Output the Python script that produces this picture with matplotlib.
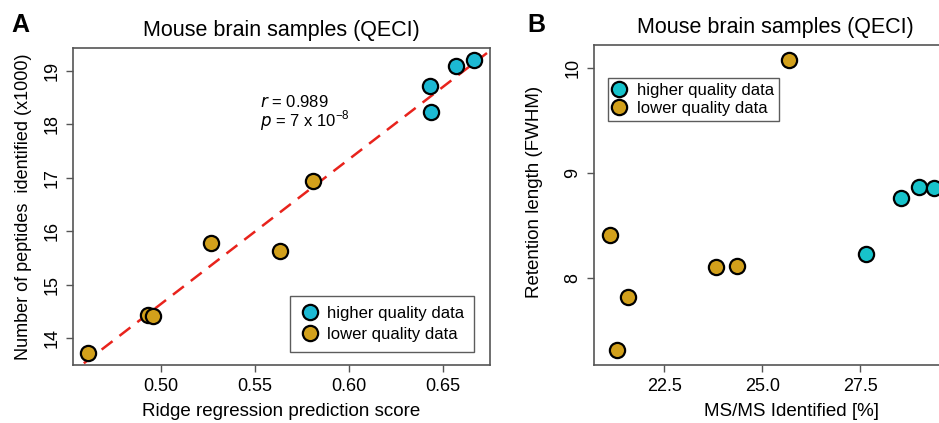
import numpy as np
import matplotlib
matplotlib.use("Agg")
import matplotlib.pyplot as plt
from matplotlib.lines import Line2D

plt.rcParams["font.family"] = ["Liberation Sans", "DejaVu Sans"]

# ===== Panel A data =====
a_score_hi = [0.643, 0.6436, 0.6567, 0.6665]
a_pep_hi = [18.72, 18.24, 19.09, 19.21]
a_score_lo = [0.461, 0.4929, 0.4956, 0.5266, 0.5633, 0.581]
a_pep_lo = [13.72, 14.44, 14.41, 15.78, 15.64, 16.94]
a_xticks = [0.50, 0.55, 0.60, 0.65]
a_yticks = [14, 15, 16, 17, 18, 19]

# ===== Panel B data =====
b_msms_hi = [27.65, 28.54, 28.99, 29.37]
b_fwhm_hi = [8.23, 8.76, 8.87, 8.86]
b_msms_lo = [25.68, 21.13, 23.81, 24.35, 21.58, 21.30]
b_fwhm_lo = [10.08, 8.41, 8.10, 8.11, 7.82, 7.31]
b_xticks = [22.5, 25.0, 27.5]
b_yticks = [8, 9, 10]

CYAN_A = "#1cb9d3"
CYAN_B = "#17c3cb"
GOLD = "#d2a01b"
FRAME = "#555555"

fig = plt.figure(figsize=(9.39, 4.23), dpi=100)
axA = fig.add_axes([0.0777, 0.1371, 0.4441, 0.7494])
axB = fig.add_axes([0.6326, 0.1371, 0.4217, 0.7565])


def style(ax):
    for s in ax.spines.values():
        s.set_color(FRAME)
        s.set_linewidth(1.2)
    ax.tick_params(direction="out", length=5, width=1, color=FRAME,
                   labelsize=13, pad=4)
    for lab in ax.get_yticklabels():
        lab.set_rotation(90)
        lab.set_va("center")


def legend_handles(cyan):
    return [
        Line2D([], [], ls="", marker="o", ms=11, mfc=cyan, mec="black", mew=1.6,
               label="higher quality data"),
        Line2D([], [], ls="", marker="o", ms=11, mfc=GOLD, mec="black", mew=1.6,
               label="lower quality data"),
    ]


mk = dict(s=120, edgecolors="black", linewidths=1.6, zorder=3)

# ===== Panel A =====
slope, icpt = np.polyfit(a_score_hi + a_score_lo, a_pep_hi + a_pep_lo, 1)
xx = np.array([0.44, 0.70])
axA.plot(xx, slope * xx + icpt, color="#e8231c", lw=1.8, ls=(0, (5.5, 3.5)), zorder=2)
axA.scatter(a_score_lo, a_pep_lo, color=GOLD, **mk)
axA.scatter(a_score_hi, a_pep_hi, color=CYAN_A, **mk)
axA.set_xlim(0.4532, 0.675)
axA.set_ylim(13.5, 19.43)
axA.set_xticks(a_xticks)
axA.set_xticklabels([f"{v:.2f}" for v in a_xticks])
axA.set_yticks(a_yticks)
style(axA)
axA.set_xlabel("Ridge regression prediction score", fontsize=13.5, labelpad=6)
axA.set_ylabel("Number of peptides  identified (x1000)", fontsize=13, labelpad=8)
axA.set_title("Mouse brain samples (QECI)", fontsize=15.5, pad=9)
axA.text(0.5527, 18.33, r"$r$ = 0.989", fontsize=12, va="baseline")
axA.text(0.5527, 17.97, r"$p$ = 7 x 10$^{\mathregular{-8}}$", fontsize=12, va="baseline")
fig.text(0.012, 0.94, "A", fontsize=18, fontweight="bold", va="center")

legA = axA.legend(handles=legend_handles(CYAN_A), loc="lower right",
                  bbox_to_anchor=(0.9616, 0.041), fontsize=12, frameon=True,
                  fancybox=False, handletextpad=0.4, borderpad=0.6,
                  labelspacing=0.35, handlelength=1.2, borderaxespad=0)
legA.get_frame().set_edgecolor("#333333")
legA.get_frame().set_linewidth(1.0)

# ===== Panel B =====
axB.scatter(b_msms_lo, b_fwhm_lo, color=GOLD, **mk)
axB.scatter(b_msms_hi, b_fwhm_hi, color=CYAN_B, **mk)
axB.set_xlim(20.71, 30.81)
axB.set_ylim(7.17, 10.22)
axB.set_xticks(b_xticks)
axB.set_xticklabels([f"{v:.1f}" for v in b_xticks])
axB.set_yticks(b_yticks)
style(axB)
axB.set_xlabel("MS/MS Identified [%]", fontsize=13.5, labelpad=6)
axB.set_ylabel("Retention length (FWHM)", fontsize=13.5, labelpad=6)
axB.yaxis.set_label_coords(-0.128, 0.54)
axB.set_title("Mouse brain samples (QECI)", fontsize=15.5, pad=9, x=0.457)
fig.text(0.562, 0.942, "B", fontsize=18, fontweight="bold", va="center")

legB = axB.legend(handles=legend_handles(CYAN_B), loc="upper left",
                  bbox_to_anchor=(0.0346, 0.898), fontsize=12, frameon=True,
                  fancybox=False, handletextpad=0.7, borderpad=0.3,
                  labelspacing=0.22, handlelength=0.75, borderaxespad=0)
legB.get_frame().set_edgecolor("#333333")
legB.get_frame().set_linewidth(1.0)

fig.savefig("out.png", dpi=100)
